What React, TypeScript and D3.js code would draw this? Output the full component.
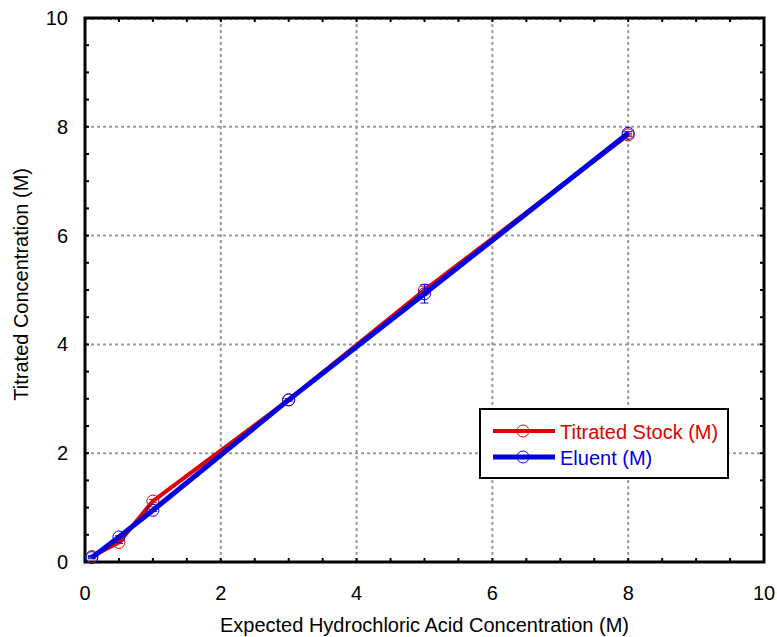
import React from "react";
import * as d3 from "d3";

const expected = [0.1, 0.5, 1, 3, 5, 8];
const stockValues = [0.1, 0.36, 1.12, 2.98, 5.0, 7.85];
const stockErr = [0.02, 0.02, 0.03, 0.02, 0.07, 0.03];
const eluentValues = [0.08, 0.46, 0.95, 2.98, 4.93, 7.88];
const eluentErr = [0.02, 0.02, 0.02, 0.02, 0.17, 0.03];
const xTicks = [0, 2, 4, 6, 8, 10];
const yTicks = [0, 2, 4, 6, 8, 10];
const minorTicks = d3.range(0, 10.01, 0.5);
const seriesNames = ["Titrated Stock (M)", "Eluent (M)"];
const seriesColors = ["#e00000", "#0000e0"];

const W = 777, H = 637;
const L = 85, R = 764, T = 18, B = 562;

export default function App() {
  const x = d3.scaleLinear().domain([0, 10]).range([L, R]);
  const y = d3.scaleLinear().domain([0, 10]).range([B, T]);
  const line = d3.line<[number, number]>().x(d => x(d[0])).y(d => y(d[1]));
  const series = [
    { vals: stockValues, err: stockErr, w: 4 },
    { vals: eluentValues, err: eluentErr, w: 5 },
  ];
  const font = "Liberation Sans, Arial, sans-serif";
  return (
    <svg width={W} height={H} style={{ position: "absolute", left: 0, top: 0 }} fontFamily={font}>
      <rect width={W} height={H} fill="white" />
      {xTicks.slice(1, -1).map(t => (
        <line key={"gx" + t} x1={x(t)} x2={x(t)} y1={T} y2={B} stroke="#999" strokeWidth={2} strokeDasharray="3,3" />
      ))}
      {yTicks.slice(1, -1).map(t => (
        <line key={"gy" + t} x1={L} x2={R} y1={y(t)} y2={y(t)} stroke="#999" strokeWidth={2} strokeDasharray="3,3" />
      ))}
      <line x1={L} x2={R} y1={T + 1} y2={T + 1} stroke="#999" strokeWidth={2} strokeDasharray="3,3" />
      {minorTicks.map(t => (
        <g key={"mt" + t} stroke="black" strokeWidth={2}>
          <line x1={x(t)} x2={x(t)} y1={B} y2={B - 4} />
          <line x1={x(t)} x2={x(t)} y1={T} y2={T + 4} />
          <line x1={L} x2={L + 4} y1={y(t)} y2={y(t)} />
          <line x1={R} x2={R - 4} y1={y(t)} y2={y(t)} />
        </g>
      ))}
      <rect x={L} y={T} width={R - L} height={B - T} fill="none" stroke="black" strokeWidth={3} />
      {series.map((s, i) => {
        const pts = expected.map((e, j) => [e, s.vals[j]] as [number, number]);
        return (
          <g key={"s" + i}>
            <path d={line(pts) || ""} fill="none" stroke={seriesColors[i]} strokeWidth={s.w} strokeLinejoin="round" />
            {pts.map((p, j) => (
              <g key={j} stroke={seriesColors[i]} strokeWidth={1}>
                <line x1={x(p[0])} x2={x(p[0])} y1={y(p[1] - s.err[j])} y2={y(p[1] + s.err[j])} />
                <line x1={x(p[0]) - 4} x2={x(p[0]) + 4} y1={y(p[1] - s.err[j])} y2={y(p[1] - s.err[j])} />
                <line x1={x(p[0]) - 4} x2={x(p[0]) + 4} y1={y(p[1] + s.err[j])} y2={y(p[1] + s.err[j])} />
                <circle cx={x(p[0])} cy={y(p[1])} r={6} fill="none" />
              </g>
            ))}
          </g>
        );
      })}
      {xTicks.map(t => (
        <text key={"xl" + t} x={x(t)} y={600} textAnchor="middle" fontSize={20}>{t}</text>
      ))}
      {yTicks.map(t => (
        <text key={"yl" + t} x={68} y={y(t) + 7} textAnchor="end" fontSize={20}>{t}</text>
      ))}
      <text x={(L + R) / 2} y={632} textAnchor="middle" fontSize={20}>Expected Hydrochloric Acid Concentration (M)</text>
      <text transform={`translate(28,168) rotate(-90)`} textAnchor="end" fontSize={20}>Titrated Concentration (M)</text>
      <g>
        <rect x={480} y={409} width={248} height={69} fill="white" stroke="black" strokeWidth={2} />
        {seriesNames.map((n, i) => {
          const yy = 431 + i * 26;
          return (
            <g key={n}>
              <line x1={493} x2={555} y1={yy} y2={yy} stroke={seriesColors[i]} strokeWidth={i === 0 ? 4 : 5} />
              <circle cx={523} cy={yy} r={6} fill="white" fillOpacity={0} stroke={seriesColors[i]} strokeWidth={1} />
              <text x={560} y={yy + 8} fontSize={20} fill={seriesColors[i]}>{n}</text>
            </g>
          );
        })}
      </g>
    </svg>
  );
}
